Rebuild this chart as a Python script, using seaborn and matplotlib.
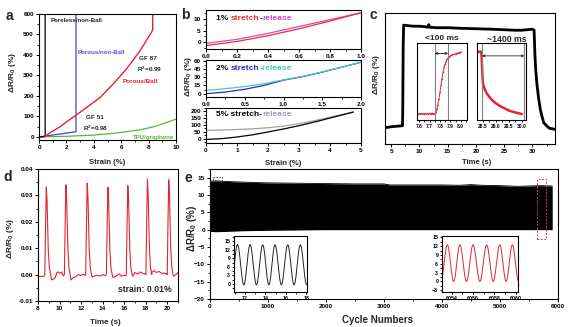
import numpy as np
import matplotlib
matplotlib.use('Agg')
import matplotlib.pyplot as plt
import seaborn as sns
from matplotlib.ticker import MultipleLocator, FormatStrFormatter
from matplotlib.patches import Rectangle

# ---------------- data ----------------
# panel a
a_poreless_x = [0.0, 0.3, 0.45, 0.45]
a_poreless_y = [0.0, 1.0, 3.0, 640.0]
a_nonball_x = [0.0, 2.7, 2.7]
a_nonball_y = [0.0, 25.0, 640.0]
a_ball_x = [0.4, 0.8, 1.5, 2.1, 2.75, 3.5, 4.45, 5.4, 6.4, 7.37, 8.22, 8.3, 8.3]
a_ball_y = [0.0, 20.0, 48.0, 78.0, 108.0, 145.0, 192.0, 257.0, 333.0, 420.0, 512.0, 525.0, 640.0]
a_tpu_x = [0.0, 2.0, 4.0, 5.2, 6.0, 7.4, 8.5, 10.0]
a_tpu_y = [0.0, 3.0, 9.0, 16.0, 22.0, 35.0, 52.0, 87.0]

# panel b
b1_stretch_x = [0.0, 0.2, 0.4, 0.6, 0.8, 1.0]
b1_stretch_y = [-1.5, 0.3, 2.8, 5.8, 9.2, 12.8]
b1_release_x = [1.0, 0.8, 0.6, 0.4, 0.2, 0.0]
b1_release_y = [12.8, 9.8, 6.8, 3.8, 1.2, -0.5]
b2_stretch_x = [0.0, 0.25, 0.5, 0.75, 1.0, 1.25, 1.5, 1.75, 2.0]
b2_stretch_y = [0.0, 3.0, 8.0, 15.0, 24.5, 31.0, 39.0, 48.0, 57.0]
b2_release_x = [2.0, 1.75, 1.5, 1.25, 1.0, 0.75, 0.5, 0.25, 0.0]
b2_release_y = [57.0, 48.0, 39.5, 31.5, 25.0, 18.0, 13.0, 9.0, 6.0]
b3_stretch_x = [0.0, 0.5, 1.0, 1.5, 2.0, 2.5, 3.0, 3.5, 4.0, 4.75]
b3_stretch_y = [-6.0, 0.0, 12.0, 28.0, 49.0, 71.0, 95.0, 122.0, 151.0, 195.0]
b3_release_x = [4.75, 4.0, 3.5, 3.0, 2.5, 2.0, 1.5, 1.0, 0.5, 0.0]
b3_release_y = [195.0, 158.0, 132.0, 110.0, 92.0, 80.0, 72.0, 67.0, 63.0, 62.0]

# panel c (main trace, relative units)
c_t = [3.9, 5.0, 6.0, 7.0, 7.05, 7.12, 7.2, 8.0, 9.0, 10.0, 11.0, 11.5, 11.65, 11.8, 13.0, 15.0,
       17.0, 20.0, 23.0, 25.0, 27.0, 28.0, 29.0, 30.0, 30.3, 30.45, 30.6, 30.8, 31.1, 31.4, 31.7,
       32.0, 32.5, 33.0, 34.0]
c_v = [-1.0, 0.0, 0.5, 1.0, 20.0, 80.0, 100.0, 99.5, 99.0, 99.0, 98.5, 98.0, 100.5, 98.0, 97.5,
       97.5, 97.0, 96.5, 96.0, 95.5, 95.0, 95.0, 95.5, 96.0, 95.0, 70.0, 55.0, 42.0, 28.0, 17.0,
       10.0, 4.0, 1.0, -1.5, -2.5]
c1_t = [7.59, 7.60, 7.61, 7.62, 7.63, 7.64, 7.65, 7.66, 7.67, 7.68, 7.69, 7.70, 7.71, 7.72, 7.73,
        7.74, 7.75, 7.76, 7.77, 7.78, 7.79, 7.80, 7.81, 7.82, 7.83, 7.84, 7.85, 7.86, 7.87, 7.88,
        7.89, 7.90, 7.91, 7.92, 7.93, 7.94, 7.95, 7.96, 7.97, 7.98, 7.99, 8.00]
c1_v = [0, 1.5, 0, 1.5, 0, 1.5, 0, 1.5, 0, 1.5, 0, 1.5, 0, 1.5, 0, 1.5, 0.5,
        3, 8, 15, 25, 35, 46, 57, 67, 75, 80, 85, 88, 90, 91.5, 93, 94, 95, 95.5, 96, 96.5,
        97, 97.5, 98, 98.5, 99]
c2_t = [28.30, 28.35, 28.40, 28.44, 28.47, 28.50, 28.55, 28.62, 28.74, 28.87, 29.00, 29.13,
        29.26, 29.38, 29.50, 29.64, 29.78, 29.90, 30.00]
c2_v = [100, 99, 100, 99, 70, 49, 42, 35, 28, 22, 17.5, 14, 11, 8.5, 6, 4.2, 2.7, 1.5, 0.5]
c1_marks = [7.752, 7.877]
c2_marks = [28.47, 30.09]

# panel d
d_peak_t = [8.77, 10.59, 12.57, 14.49, 16.34, 18.16, 20.14]
d_peak_h = [0.0331, 0.0340, 0.0346, 0.0331, 0.0337, 0.0359, 0.0359]
d_shape_dt = [-0.14, -0.07, 0.0, 0.07, 0.18, 0.28, 0.40]
d_shape_f = [0.0, 0.55, 1.0, 0.85, 0.30, 0.08, 0.0]
d_base_t = [8.0, 8.2, 8.4, 8.55, 9.25, 9.4, 9.6, 9.75, 9.9, 10.05, 10.2, 10.35, 11.05, 11.25,
            11.5, 11.75, 12.0, 12.2, 12.35, 13.05, 13.25, 13.5, 13.75, 14.0, 14.25, 14.95, 15.15,
            15.35, 15.55, 15.75, 16.0, 16.15, 16.8, 17.0, 17.25, 17.5, 17.75, 17.95, 18.6, 18.8,
            19.0, 19.25, 19.5, 19.75, 19.95, 20.6, 20.8, 21.0]
d_base_v = [-0.0005, -0.0008, -0.0006, -0.0007, -0.0020, -0.0018, -0.0012, 0.0008, 0.0010,
            0.0004, 0.0010, -0.0005, -0.0020, -0.0012, -0.0008, 0.0000, -0.0004, 0.0002, -0.0003,
            -0.0010, -0.0005, -0.0002, -0.0006, 0.0000, -0.0004, -0.0010, -0.0008, -0.0003,
            0.0003, -0.0006, -0.0002, -0.0004, -0.0006, 0.0008, 0.0002, 0.0010, 0.0004, 0.0002,
            0.0010, 0.0015, 0.0008, 0.0012, 0.0004, 0.0006, 0.0002, -0.0006, 0.0000, 0.0008]

# panel e (envelope of ~6000 cycles)
e_cycles = [0, 100, 300, 600, 1000, 1500, 2000, 2500, 3000, 3100, 3300, 3600, 4000, 4300, 4500,
            4700, 5000, 5300, 5500, 5700, 5900]
e_top = [14.0, 14.1, 13.9, 13.7, 13.5, 13.4, 13.3, 13.2, 13.2, 12.9, 12.9, 12.9, 12.9, 12.8,
         13.0, 12.8, 12.7, 12.5, 12.6, 12.7, 12.6]
e_bottom = [-0.5, -0.6, -0.5, -0.3, -0.2, -0.1, 0.0, 0.0, 0.0, 0.0, 0.0, 0.0, 0.0, 0.0, 0.0,
            0.0, 0.0, 0.0, 0.0, 0.0, 0.0]
e1_ext_t = [10.66, 11.27, 11.89, 12.50, 13.12, 13.73, 14.33, 14.93, 15.55, 16.17, 16.79, 17.40, 18.02]
e1_ext_v = [-0.3, 13.8, -0.3, 13.8, -0.3, 13.7, -0.3, 13.7, -0.3, 13.7, -0.3, 13.7, -0.3]
e2_ext_t = [6053.0, 6053.6, 6054.19, 6054.77, 6055.39, 6056.0, 6056.64, 6057.27, 6057.89,
            6058.5, 6059.09, 6059.67, 6060.26]
e2_ext_v = [0.0, 12.5, 0.0, 12.5, 0.0, 12.5, 0.0, 12.5, 0.0, 12.5, 0.0, 12.5, 0.0]
e_box_start = [60, 14.0]
e_box_end = [200, 15.3]
e_rbox_start = [5633, -2.7]
e_rbox_end = [5793, 14.6]

# ---------------- style ----------------
sns.set_theme(style='ticks')
plt.rcParams['font.family'] = ['Liberation Sans', 'DejaVu Sans']
plt.rcParams.update({
    'font.weight': 'bold', 'axes.labelweight': 'bold', 'axes.linewidth': 0.8,
    'axes.edgecolor': 'black', 'xtick.color': 'black', 'ytick.color': 'black',
    'xtick.major.size': 2.5, 'ytick.major.size': 2.5, 'xtick.minor.size': 1.5,
    'ytick.minor.size': 1.5, 'xtick.major.width': 0.7, 'ytick.major.width': 0.7,
    'xtick.minor.width': 0.6, 'ytick.minor.width': 0.6, 'xtick.labelsize': 4.6,
    'ytick.labelsize': 4.6, 'xtick.major.pad': 1.2, 'ytick.major.pad': 1.2,
    'mathtext.default': 'regular', 'axes.facecolor': 'white',
})

W, H = 570, 327
fig = plt.figure(figsize=(W / 100, H / 100), dpi=100)
fig.patch.set_facecolor('white')


def box(l, t, r, b):
    return fig.add_axes([l / W, 1 - b / H, (r - l) / W, (b - t) / H])


def ftext(x, y, s, **kw):
    kw.setdefault('fontweight', 'bold')
    return fig.text(x / W, 1 - y / H, s, **kw)


def line(ax, x, y, color, lw=0.9, **kw):
    sns.lineplot(x=x, y=y, ax=ax, color=color, lw=lw, sort=False, estimator=None,
                 legend=False, **kw)


def ticks(ax, xmaj, xmin, ymaj, ymin):
    ax.xaxis.set_major_locator(MultipleLocator(xmaj))
    ax.xaxis.set_minor_locator(MultipleLocator(xmin))
    if ymaj is None:
        ax.set_yticks([])
    else:
        ax.yaxis.set_major_locator(MultipleLocator(ymaj))
        ax.yaxis.set_minor_locator(MultipleLocator(ymin))
    ax.tick_params(which='both', direction='out')
    ax.set_xlabel('')
    ax.set_ylabel('')


def wave(ext_t, ext_v, n=16):
    xs, ys = [], []
    for i in range(len(ext_t) - 1):
        s = np.linspace(0, 1, n, endpoint=False)
        xs.extend(ext_t[i] + (ext_t[i + 1] - ext_t[i]) * s)
        ys.extend(ext_v[i] + (ext_v[i + 1] - ext_v[i]) * (1 - np.cos(np.pi * s)) / 2)
    xs.append(ext_t[-1])
    ys.append(ext_v[-1])
    return np.array(xs), np.array(ys)


YLAB = 'ΔR/R$_0$ (%)'
RED = '#e0262e'

# ---------------- panel a ----------------
axa = box(39, 14, 176, 140)
line(axa, a_tpu_x, a_tpu_y, '#5cb435')
line(axa, a_nonball_x, a_nonball_y, '#4b3fd0')
line(axa, a_poreless_x, a_poreless_y, 'black')
line(axa, a_ball_x, a_ball_y, RED, lw=1.0)
axa.set_xlim(0, 10)
axa.set_ylim(-15, 600)
ticks(axa, 2, 1, 100, 50)
ftext(51, 20, 'Poreless/non-Ball', fontsize=4.4, va='center')
ftext(78, 52, 'Porous/non-Ball', fontsize=4.4, color='#5a50d8', va='center')
ftext(139, 58, 'GF 87', fontsize=4.6, va='center')
ftext(137, 69, 'R$^2$=0.99', fontsize=4.6, va='center')
ftext(123, 81, 'Porous/Ball', fontsize=4.6, color=RED, va='center')
ftext(86, 117, 'GF 51', fontsize=4.6, va='center')
ftext(83, 128, 'R$^2$=0.98', fontsize=4.6, va='center')
ftext(133, 137, 'TPU/graphene', fontsize=4.4, color='#5cb435', va='center')
ftext(12, 73, YLAB, fontsize=6, rotation=90, ha='center', va='center')
ftext(107, 162, 'Strain (%)', fontsize=5.6, ha='center', va='center')
ftext(9, 16, 'a', fontsize=10, ha='center', va='center')

# ---------------- panel b ----------------
axb1 = box(206, 10, 361, 49)
line(axb1, b1_release_x, b1_release_y, '#cc4acb')
line(axb1, b1_stretch_x, b1_stretch_y, '#e8302a')
axb1.set_xlim(0, 1.0)
axb1.set_ylim(-3, 14)
ticks(axb1, 0.2, 0.1, 5, 2.5)
axb1.xaxis.set_major_formatter(FormatStrFormatter('%.1f'))

axb2 = box(206, 60, 361, 97)
line(axb2, b2_stretch_x, b2_stretch_y, '#2c2cb8')
line(axb2, b2_release_x, b2_release_y, '#4cc8b8')
axb2.set_xlim(0, 2.0)
axb2.set_ylim(-6, 61)
ticks(axb2, 0.5, 0.25, 15, 7.5)
axb2.xaxis.set_major_formatter(FormatStrFormatter('%.1f'))

axb3 = box(206, 108, 361, 143)
line(axb3, b3_release_x, b3_release_y, '#a0a0a0')
line(axb3, b3_stretch_x, b3_stretch_y, 'black')
axb3.set_xlim(0, 5)
axb3.set_ylim(-32, 225)
ticks(axb3, 1, 0.5, 50, 25)


def rich(ax, parts, x, y, size=6):
    t = ax.text(x, y, parts[0][0], color=parts[0][1], fontsize=size, fontweight='bold',
                transform=ax.transAxes, va='center', ha='left')
    for s, c in parts[1:]:
        t = ax.annotate(s, xy=(1, 0), xycoords=t, va='bottom', ha='left', color=c,
                        fontsize=size, fontweight='bold')
    return t


rich(axb1, [('1% ', 'black'), ('stretch', '#e8302a'), ('-', 'black'), ('release', '#cc4acb')], 0.065, 0.77)
rich(axb2, [('2% ', 'black'), ('stretch', '#2c2cb8'), ('-release', '#4cc8b8')], 0.065, 0.77)
rich(axb3, [('5% stretch-', 'black'), ('release', '#9aa0b4')], 0.065, 0.8)
ftext(189, 77, YLAB, fontsize=6, rotation=90, ha='center', va='center')
ftext(283, 163, 'Strain (%)', fontsize=5.6, ha='center', va='center')
ftext(185, 15, 'b', fontsize=10, ha='center', va='center')

# ---------------- panel c ----------------
axc = box(385, 13, 555, 144)
line(axc, c_t, c_v, 'black', lw=2.0)
axc.set_xlim(3.9, 34)
axc.set_ylim(-17, 112)
ticks(axc, 5, 2.5, None, None)

axc1 = box(417, 43, 467, 120)
line(axc1, c1_t, c1_v, RED, lw=0.7, marker='o', markersize=1.0, markeredgewidth=0)
axc1.set_xlim(7.58, 8.06)
axc1.set_ylim(-9, 113.5)
ticks(axc1, 0.1, 0.05, None, None)
axc1.xaxis.set_major_formatter(FormatStrFormatter('%.1f'))
axc1.tick_params(labelsize=3.6, length=1.5)
for m in c1_marks:
    axc1.axvline(m, color='#808080', lw=0.8)
axc1.annotate('', xy=(c1_marks[1], 97), xytext=(c1_marks[0], 97),
              arrowprops=dict(arrowstyle='<->', lw=0.5, color='black', shrinkA=0, shrinkB=0,
                              mutation_scale=4))

axc2 = box(477, 43, 526, 120)
line(axc2, c2_t, c2_v, RED, lw=1.8)
axc2.set_xlim(28.27, 30.16)
axc2.set_ylim(-9, 113.5)
ticks(axc2, 0.5, 0.25, None, None)
axc2.xaxis.set_major_formatter(FormatStrFormatter('%.1f'))
axc2.tick_params(labelsize=3.6, length=1.5)
for m in c2_marks:
    axc2.axvline(m, color='#808080', lw=0.8)
axc2.annotate('', xy=(c2_marks[1], 93), xytext=(c2_marks[0], 93),
              arrowprops=dict(arrowstyle='<->', lw=0.5, color='black', shrinkA=0, shrinkB=0,
                              mutation_scale=4))
ftext(442, 39, '<100 ms', fontsize=6, ha='center', va='center')
ftext(507, 39, '~1400 ms', fontsize=6.2, ha='center', va='center')
ftext(376, 75, YLAB, fontsize=6, rotation=90, ha='center', va='center')
ftext(477, 162, 'Time (s)', fontsize=5.6, ha='center', va='center')
ftext(373, 15, 'c', fontsize=10, ha='center', va='center')

# ---------------- panel d ----------------
pts = list(zip(d_base_t, d_base_v))
for t0, h in zip(d_peak_t, d_peak_h):
    for dt, f in zip(d_shape_dt, d_shape_f):
        pts.append((t0 + dt, h * f))
pts.sort()
d_t = [p[0] for p in pts]
d_v = [p[1] for p in pts]
axd = box(38, 169, 178, 301)
line(axd, d_t, d_v, RED, lw=0.8)
axd.set_xlim(8, 21)
axd.set_ylim(-0.01, 0.04)
ticks(axd, 2, 1, 0.01, 0.005)
axd.yaxis.set_major_formatter(FormatStrFormatter('%.2f'))
ftext(145, 290, 'strain: 0.01%', fontsize=6.2, ha='center', va='center')
ftext(10, 239, YLAB, fontsize=6, rotation=90, ha='center', va='center')
ftext(105, 322, 'Time (s)', fontsize=5.8, ha='center', va='center')
ftext(8, 177, 'd', fontsize=10, ha='center', va='center')

# ---------------- panel e ----------------
axe = box(210, 169, 558, 299)
axe.fill_between(e_cycles, e_bottom, e_top, color='black', lw=0)
line(axe, e_cycles, e_top, 'black', lw=0.6)
axe.set_xlim(0, 6000)
axe.set_ylim(-20, 17.5)
ticks(axe, 1000, 500, 5, 2.5)
axe.add_patch(Rectangle((e_box_start[0], e_box_start[1]), e_box_end[0] - e_box_start[0],
                        e_box_end[1] - e_box_start[1], fill=False, ls=(0, (2, 1.5)),
                        lw=0.6, ec='#444444', zorder=5))
axe.add_patch(Rectangle((e_rbox_start[0], e_rbox_start[1]), e_rbox_end[0] - e_rbox_start[0],
                        e_rbox_end[1] - e_rbox_start[1], fill=False, ls=(0, (2, 1.5)),
                        lw=0.7, ec='#e03a4a', zorder=5))

axe1 = box(234, 236, 307, 292)
wx, wy = wave(e1_ext_t, e1_ext_v)
line(axe1, wx, wy, '#222222', lw=0.7)
axe1.set_xlim(10.93, 18.05)
axe1.set_ylim(-2.8, 16.8)
ticks(axe1, 2, 1, 3, 1.5)
axe1.tick_params(labelsize=3.8, length=1.5)

axe2 = box(442, 236, 518, 292)
wx, wy = wave(e2_ext_t, e2_ext_v)
line(axe2, wx, wy, RED, lw=0.7)
axe2.set_xlim(6053.1, 6060.2)
axe2.set_ylim(-3.6, 15.5)
ticks(axe2, 2, 1, 3, 1.5)
axe2.tick_params(labelsize=3.8, length=1.5)

ftext(192, 228, YLAB, fontsize=7, rotation=90, ha='center', va='center')
ftext(378, 320, 'Cycle Numbers', fontsize=7, ha='center', va='center')
ftext(188, 178, 'e', fontsize=10, ha='center', va='center')

fig.savefig('out.png', dpi=100)
